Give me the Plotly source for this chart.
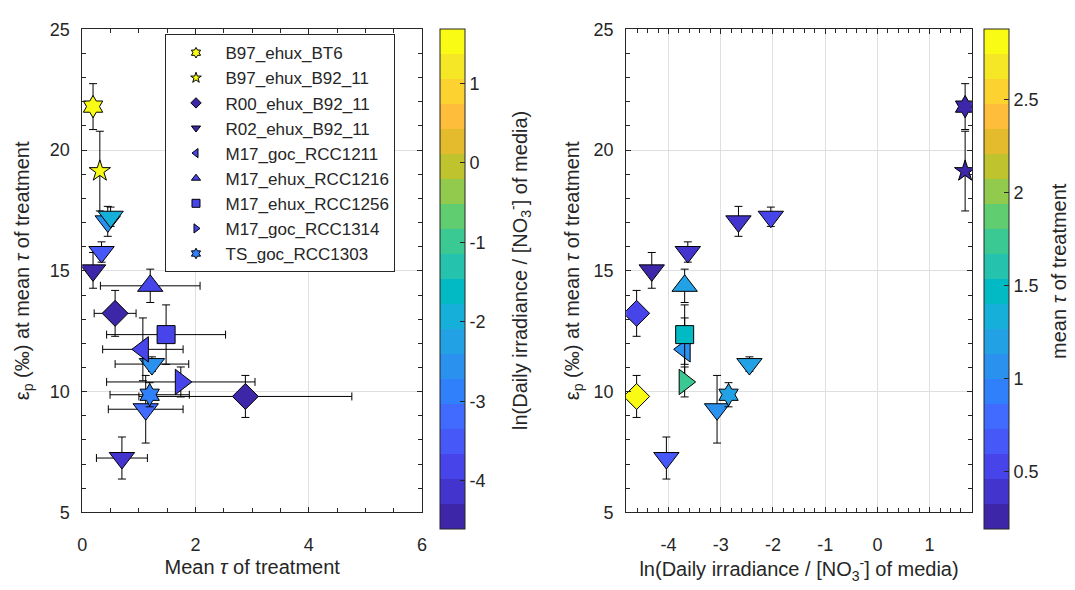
import numpy as np
import plotly.graph_objects as go

# ---------------- data ----------------
series_names = ["B97_ehux_BT6", "B97_ehux_B92_11", "R00_ehux_B92_11", "R02_ehux_B92_11",
                "M17_goc_RCC1211", "M17_ehux_RCC1216", "M17_ehux_RCC1256", "M17_goc_RCC1314",
                "TS_goc_RCC1303"]
series_symbols = ["hexagram", "star", "diamond", "triangle-down", "triangle-left",
                  "triangle-up", "square", "triangle-right", "hexagram"]

point_series = [0, 1, 2, 2, 3, 3, 3, 3, 3, 3, 3, 4, 5, 6, 7, 8]
tau = [0.19, 0.31, 0.58, 2.88, 0.19, 0.34, 0.45, 0.50, 1.23, 1.12, 0.70, 1.07, 1.20, 1.48, 1.74, 1.19]
tau_err = [0.0, 0.0, 0.37, 1.88, 0.0, 0.0, 0.0, 0.0, 0.65, 0.66, 0.45, 0.71, 0.88, 1.05, 1.31, 0.70]
ln_ratio = [1.68, 1.68, -4.61, -4.61, -4.32, -3.63, -2.66, -2.04, -2.45, -3.07, -4.04,
            -3.69, -3.69, -3.69, -3.69, -2.85]
eps_p = [21.8, 19.13, 13.24, 9.8, 15.02, 15.78, 17.05, 17.24, 11.14, 9.27, 7.25,
         11.75, 14.38, 12.36, 10.4, 9.87]
eps_err = [0.95, 1.65, 0.95, 0.87, 0.74, 0.42, 0.62, 0.40, 0.30, 1.40, 0.87,
           1.30, 0.69, 1.23, 0.62, 0.50]

ln_ticks = [-4, -3, -2, -1, 0, 1]
ln_ticktext = ["-4", "-3", "-2", "-1", "0", "1"]
tau_cb_ticks = [0.5, 1, 1.5, 2, 2.5]
left_xticks = [0, 2, 4, 6]
right_xticks = [-4, -3, -2, -1, 0, 1]
right_xticktext = ["-4", "-3", "-2", "-1", "0", "1"]
y_ticks = [5, 10, 15, 20, 25]

# ---------------- parula colormap ----------------
PARULA64 = np.array([
    [0.2422, 0.1504, 0.6603], [0.2504, 0.1650, 0.7076], [0.2578, 0.1818, 0.7511], [0.2647, 0.1978, 0.7952],
    [0.2706, 0.2147, 0.8364], [0.2751, 0.2342, 0.8710], [0.2783, 0.2559, 0.8991], [0.2803, 0.2782, 0.9221],
    [0.2813, 0.3006, 0.9414], [0.2810, 0.3228, 0.9579], [0.2795, 0.3447, 0.9717], [0.2760, 0.3667, 0.9829],
    [0.2699, 0.3892, 0.9906], [0.2602, 0.4123, 0.9952], [0.2440, 0.4358, 0.9988], [0.2206, 0.4603, 0.9973],
    [0.1963, 0.4847, 0.9892], [0.1834, 0.5074, 0.9798], [0.1786, 0.5289, 0.9682], [0.1764, 0.5499, 0.9520],
    [0.1687, 0.5703, 0.9359], [0.1540, 0.5902, 0.9218], [0.1460, 0.6091, 0.9079], [0.1380, 0.6276, 0.8973],
    [0.1248, 0.6459, 0.8883], [0.1113, 0.6635, 0.8763], [0.0952, 0.6798, 0.8598], [0.0689, 0.6948, 0.8394],
    [0.0297, 0.7082, 0.8163], [0.0036, 0.7203, 0.7917], [0.0067, 0.7312, 0.7660], [0.0433, 0.7411, 0.7394],
    [0.0964, 0.7500, 0.7120], [0.1408, 0.7584, 0.6842], [0.1717, 0.7670, 0.6554], [0.1938, 0.7758, 0.6251],
    [0.2161, 0.7843, 0.5923], [0.2470, 0.7918, 0.5567], [0.2906, 0.7973, 0.5188], [0.3406, 0.8008, 0.4789],
    [0.3909, 0.8029, 0.4354], [0.4456, 0.8024, 0.3909], [0.5044, 0.7993, 0.3480], [0.5616, 0.7942, 0.3045],
    [0.6174, 0.7876, 0.2612], [0.6720, 0.7793, 0.2227], [0.7242, 0.7698, 0.1910], [0.7738, 0.7598, 0.1646],
    [0.8203, 0.7498, 0.1535], [0.8634, 0.7406, 0.1596], [0.9035, 0.7330, 0.1774], [0.9393, 0.7288, 0.2100],
    [0.9728, 0.7298, 0.2394], [0.9956, 0.7434, 0.2371], [0.9970, 0.7659, 0.2199], [0.9952, 0.7893, 0.2028],
    [0.9892, 0.8136, 0.1885], [0.9786, 0.8386, 0.1766], [0.9676, 0.8639, 0.1643], [0.9610, 0.8890, 0.1537],
    [0.9597, 0.9135, 0.1423], [0.9628, 0.9373, 0.1265], [0.9691, 0.9606, 0.1064], [0.9769, 0.9839, 0.0805]])

NLEV = 20
base_pos = np.linspace(0, 1, 64)
lev_pos = np.linspace(0, 1, NLEV)
lev_cols = np.stack([np.interp(lev_pos, base_pos, PARULA64[:, k]) for k in range(3)], axis=1)
lev_hex = ["rgb(%d,%d,%d)" % tuple(int(round(v * 255)) for v in c) for c in lev_cols]
colorscale = []
for i, c in enumerate(lev_hex):
    colorscale.append([i / NLEV, c])
    colorscale.append([(i + 1) / NLEV, c])


def level_color(v, vmin, vmax):
    k = int(np.floor((v - vmin) / (vmax - vmin) * NLEV))
    return lev_hex[min(max(k, 0), NLEV - 1)]


ln_min, ln_max = min(ln_ratio), max(ln_ratio)
tau_min, tau_max = min(tau), max(tau)

# ---------------- figure ----------------
W, H = 1075, 590
FONT = "Liberation Sans, Arial, Helvetica, sans-serif"
AX = "#262626"
GRID = "#dfdfdf"
fig = go.Figure()

big_sizes = {"hexagram": 17, "star": 16, "diamond": 20, "triangle-down": 22, "triangle-left": 22,
             "triangle-up": 22, "square": 18, "triangle-right": 22}

for s, name in enumerate(series_names):
    idx = [i for i, p in enumerate(point_series) if p == s]
    sym = series_symbols[s]
    xs = [tau[i] for i in idx]
    xe = [tau_err[i] for i in idx]
    ls = [ln_ratio[i] for i in idx]
    ys = [eps_p[i] for i in idx]
    ye = [eps_err[i] for i in idx]
    ebar = dict(type="data", visible=True, color="black", thickness=1, width=4)
    # left panel: x = mean tau, colour = ln ratio
    fig.add_trace(go.Scatter(
        x=xs, y=ys, mode="markers", name=name, showlegend=False, xaxis="x", yaxis="y",
        error_x=dict(array=xe, **ebar), error_y=dict(array=ye, **ebar),
        marker=dict(symbol=sym, size=big_sizes[sym], color=ls, coloraxis="coloraxis",
                    line=dict(color="black", width=1))))
    # right panel: x = ln ratio, colour = tau
    fig.add_trace(go.Scatter(
        x=ls, y=ys, mode="markers", name=name, showlegend=False, xaxis="x2", yaxis="y2",
        error_y=dict(array=ye, **ebar),
        marker=dict(symbol=sym, size=big_sizes[sym], color=xs, coloraxis="coloraxis2",
                    line=dict(color="black", width=1))))

# legend entries (small markers, colour of the first point on the left panel)
for s, name in enumerate(series_names):
    first = point_series.index(s)
    fig.add_trace(go.Scatter(
        x=[None], y=[None], mode="markers", name=name, xaxis="x", yaxis="y",
        marker=dict(symbol=series_symbols[s], size=8,
                    color=level_color(ln_ratio[first], ln_min, ln_max),
                    line=dict(color="black", width=1))))

left_dom = [78 / W, 421 / W]
right_dom = [627 / W, 976 / W]
y_dom = [1 - 520 / H, 1 - 20 / H]

common_axis = dict(showline=True, linecolor=AX, linewidth=1, mirror="allticks", ticks="inside",
                   ticklen=5, tickcolor=AX, showgrid=True, gridcolor=GRID, gridwidth=1,
                   zeroline=False, tickfont=dict(size=18, color=AX, family=FONT))

ytitle = "ε<sub>p</sub> (‰) at mean <i>τ</i> of treatment"
ln_title = "ln(Daily irradiance / [NO<sub>3</sub><sup>-</sup>] of media)"
fig.update_layout(
    width=W, height=H, margin=dict(l=0, r=0, t=0, b=0),
    paper_bgcolor="white", plot_bgcolor="white",
    font=dict(family=FONT, color=AX, size=18),
    xaxis=dict(domain=left_dom, range=[0, 6], tickvals=left_xticks, anchor="y",
               minor=dict(dtick=0.5, ticks="inside", ticklen=4, tickcolor=AX, showgrid=False),
               title=dict(text="Mean <i>τ</i> of treatment", font=dict(size=20), standoff=6),
               ticklabelstandoff=16, **common_axis),
    yaxis=dict(domain=y_dom, range=[5, 25], tickvals=y_ticks, anchor="x",
               minor=dict(dtick=1, ticks="inside", ticklen=4, tickcolor=AX, showgrid=False),
               title=dict(text=ytitle, font=dict(size=20), standoff=14),
               ticklabelstandoff=8, **common_axis),
    xaxis2=dict(domain=right_dom, range=[-4.81, 1.81], tickvals=right_xticks,
                ticktext=right_xticktext, anchor="y2",
                minor=dict(dtick=0.2, tick0=0, ticks="inside", ticklen=4, tickcolor=AX, showgrid=False),
                title=dict(text=ln_title, font=dict(size=20), standoff=8),
                ticklabelstandoff=16, **common_axis),
    yaxis2=dict(domain=y_dom, range=[5, 25], tickvals=y_ticks, anchor="x2",
                minor=dict(dtick=1, ticks="inside", ticklen=4, tickcolor=AX, showgrid=False),
                title=dict(text=ytitle, font=dict(size=20), standoff=8),
                ticklabelstandoff=8, **common_axis),
    coloraxis=dict(colorscale=colorscale, cmin=ln_min, cmax=ln_max,
                   colorbar=dict(x=439 / W, xanchor="left", xpad=0, ypad=0, thickness=25,
                                 y=y_dom[1], yanchor="top", len=500, lenmode="pixels",
                                 outlinewidth=1, outlinecolor=AX, ticks="inside", ticklen=5,
                                 tickcolor=AX, tickvals=ln_ticks, ticktext=ln_ticktext,
                                 tickfont=dict(size=18, color=AX))),
    coloraxis2=dict(colorscale=colorscale, cmin=tau_min, cmax=tau_max,
                    colorbar=dict(x=988 / W, xanchor="left", xpad=0, ypad=0, thickness=25,
                                  y=y_dom[1], yanchor="top", len=500, lenmode="pixels",
                                  outlinewidth=1, outlinecolor=AX, ticks="inside", ticklen=5,
                                  tickcolor=AX, tickvals=tau_cb_ticks,
                                  tickfont=dict(size=18, color=AX))),
    legend=dict(x=162 / W, y=1 - 25 / H, xanchor="left", yanchor="top", bgcolor="white",
                bordercolor=AX, borderwidth=1, font=dict(size=17, color=AX, family=FONT),
                tracegroupgap=0, itemwidth=49),
    annotations=[
        dict(text=ln_title, x=520 / W, y=1 - 270 / H, xref="paper", yref="paper",
             textangle=-90, showarrow=False, xanchor="center", yanchor="middle",
             font=dict(size=20, color=AX, family=FONT)),
        dict(text="mean <i>τ</i> of treatment", x=1064 / W, y=1 - 270 / H, xref="paper", yref="paper",
             textangle=-90, showarrow=False, xanchor="center", yanchor="middle",
             font=dict(size=20, color=AX, family=FONT)),
    ],
)

fig.write_html("out.html")
